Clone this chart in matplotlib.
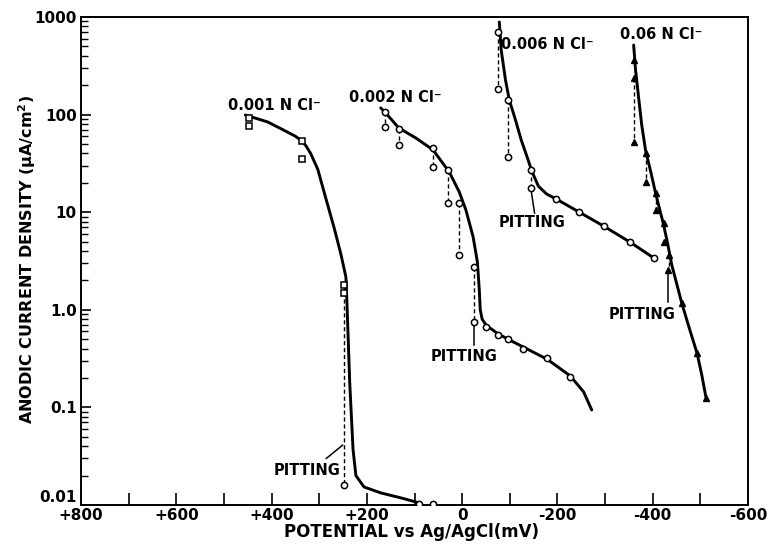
import matplotlib
matplotlib.use("Agg")
import matplotlib.pyplot as plt
from matplotlib.ticker import FixedLocator, LogLocator, NullFormatter

# ---- 0.001 N Cl- -------------------------------------------------------
e1_curve = [455, 408, 375, 350, 339, 328, 318, 303, 286, 269, 255, 244, 242,
            236, 229, 223, 206, 171, 128, 90]
i1_curve = [99, 84, 69.5, 60, 55, 48, 40, 27.5, 13.8, 7.0, 3.8, 2.17, 1.26,
            0.18, 0.037, 0.020, 0.0153, 0.0133, 0.0118, 0.0105]
e1_squares = [448, 448, 337, 337, 248, 248]
i1_squares = [92, 76, 54, 35, 1.8, 1.5]
e1_circles = [248, 90, 61]
i1_circles = [0.016, 0.0102, 0.0102]
e1_pit = [248]
i1_pit_top = [1.8]
i1_pit_bot = [0.016]

# ---- 0.002 N Cl- -------------------------------------------------------
e2_curve = [171, 162, 133, 97, 61, 27, 6, -8, -23, -32, -36, -38, -42, -51,
            -76, -103, -135, -179, -227, -255, -272]
i2_curve = [117, 106, 73, 57.5, 43.4, 25.8, 16.1, 10.5, 5.6, 3.09, 1.6, 1.0,
            0.80, 0.69, 0.565, 0.48, 0.40, 0.31, 0.21, 0.144, 0.094]
e2_circles = [162, 133, 61, 29, 6, -25, -51, -76, -97, -128, -179, -227,
              162, 133, 61, 29, 6, -25]
i2_circles = [106, 71, 45.5, 27, 12.4, 2.75, 0.67, 0.55, 0.50, 0.40, 0.32, 0.205,
              75, 49, 29, 12.4, 3.6, 0.75]
e2_pit = [162, 133, 61, 29, 6, -25]
i2_pit_top = [106, 71, 45.5, 27, 12.4, 2.75]
i2_pit_bot = [75, 49, 29, 12.4, 3.6, 0.75]

# ---- 0.006 N Cl- -------------------------------------------------------
e3_curve = [-78, -82, -91, -99, -112, -124, -137, -147, -160, -177, -198, -246,
            -297, -352, -402]
i3_curve = [889, 459, 226, 141, 88, 55, 36, 25.8, 18.5, 15.4, 13.6, 10.0,
            7.2, 4.95, 3.4]
e3_circles = [-76, -97, -145, -198, -246, -297, -352, -402, -76, -97, -145]
i3_circles = [702, 141, 27, 13.6, 10.0, 7.2, 4.95, 3.4, 183, 36.8, 17.7]
e3_pit = [-76, -97, -145]
i3_pit_top = [702, 141, 27]
i3_pit_bot = [183, 36.8, 17.7]

# ---- 0.06 N Cl- --------------------------------------------------------
e4_curve = [-360, -364, -371, -377, -385, -396, -406, -415, -423, -432, -440,
            -451, -461, -478, -493, -503, -512]
i4_curve = [516, 286, 141, 78, 43, 25.8, 15.7, 10.5, 7.4, 4.6, 2.88, 1.8, 1.17,
            0.62, 0.36, 0.215, 0.125]
e4_triangles = [-360, -360, -385, -406, -423, -423, -434, -461, -493, -512,
                -360, -385, -406, -432]
i4_triangles = [363, 237, 40.5, 15.7, 7.7, 4.96, 3.64, 1.17, 0.36, 0.125,
                52, 20.4, 10.5, 2.56]
e4_pit = [-360, -385, -406, -434]
i4_pit_top = [237, 40.5, 15.7, 3.64]
i4_pit_bot = [52, 20.4, 10.5, 2.56]

x_ticks = [800, 600, 400, 200, 0, -200, -400, -600]
x_ticklabels = ["+800", "+600", "+400", "+200", "0", "-200", "-400", "-600"]
y_ticks = [0.01, 0.1, 1, 10, 100, 1000]
y_ticklabels = ["0.01", "0.1", "1.0", "10", "100", "1000"]

plt.rcParams["font.family"] = ["DejaVu Sans"]
plt.rcParams["font.weight"] = "bold"

fig = plt.figure(figsize=(7.76, 5.56), dpi=100)
ax = fig.add_axes([0.1044, 0.0918, 0.8595, 0.8776])
ax.set_yscale("log")
ax.set_xlim(800, -600)
ax.set_ylim(0.01, 1000)

K = "black"
curve_kw = dict(color=K, lw=2.1, solid_capstyle="round",
                solid_joinstyle="round", zorder=3)
dash_kw = dict(color=K, lw=1.0, dashes=(3, 2), zorder=2)
open_kw = dict(ls="none", mfc="white", mec=K, mew=1.1, zorder=4)
lead_kw = dict(color=K, lw=1.1, zorder=2)


def drops(es, tops, bots):
    for e, t, b in zip(es, tops, bots):
        ax.plot([e, e], [t, b], **dash_kw)


# polarization curves
ax.plot(e1_curve, i1_curve, **curve_kw)
ax.plot(e2_curve, i2_curve, **curve_kw)
ax.plot(e3_curve, i3_curve, **curve_kw)
ax.plot(e4_curve, i4_curve, **curve_kw)

# current drops at pit initiation
drops(e1_pit, i1_pit_top, i1_pit_bot)
drops(e2_pit, i2_pit_top, i2_pit_bot)
drops(e3_pit, i3_pit_top, i3_pit_bot)
drops(e4_pit, i4_pit_top, i4_pit_bot)

# measured points
ax.plot(e1_squares, i1_squares, marker="s", ms=4.2, **open_kw)
ax.plot(e1_circles, i1_circles, marker="o", ms=4.5, **open_kw)
ax.plot(e2_circles, i2_circles, marker="o", ms=4.5, **open_kw)
ax.plot(e3_circles, i3_circles, marker="o", ms=4.5, **open_kw)
ax.plot(e4_triangles, i4_triangles, marker="^", ms=5, ls="none",
        color=K, zorder=4)

# concentration labels
lab_kw = dict(fontsize=10.5, fontweight="bold", ha="left", va="center")
ax.text(492, 125, "0.001 N Cl\u207b", **lab_kw)
ax.text(238, 150, "0.002 N Cl\u207b", **lab_kw)
ax.text(-82, 520, "0.006 N Cl\u207b", **lab_kw)
ax.text(-331, 660, "0.06 N Cl\u207b", **lab_kw)

# pitting labels with leader lines
pit_kw = dict(fontsize=10.5, fontweight="bold", ha="center", va="center")
ax.text(326, 0.0225, "PITTING", **pit_kw)
ax.plot([285, 251], [0.030, 0.041], **lead_kw)
ax.text(-4, 0.336, "PITTING", **pit_kw)
ax.plot([-25, -25], [0.44, 0.70], **lead_kw)
ax.text(-147, 7.9, "PITTING", **pit_kw)
ax.plot([-152, -145], [9.8, 16.5], **lead_kw)
ax.text(-377, 0.90, "PITTING", **pit_kw)
ax.plot([-432, -432], [1.2, 2.4], **lead_kw)

# axes styling
for s in ax.spines.values():
    s.set_linewidth(1.4)
ax.xaxis.set_major_locator(FixedLocator(x_ticks))
ax.set_xticklabels(x_ticklabels)
ax.xaxis.set_minor_locator(FixedLocator([700, 500, 300, 100, -100, -300, -500]))
ax.yaxis.set_major_locator(FixedLocator(y_ticks))
ax.set_yticklabels(y_ticklabels)
ax.yaxis.set_minor_locator(LogLocator(base=10, subs=range(2, 10)))
ax.yaxis.set_minor_formatter(NullFormatter())

ax.tick_params(axis="x", which="both", direction="in", length=9, width=1.2,
               labelsize=11, pad=2)
ax.tick_params(axis="y", which="major", direction="in", length=7, width=1.2,
               labelsize=11, pad=3)
ax.tick_params(axis="y", which="minor", direction="in", length=5, width=1.0)
for lbl in ax.get_xticklabels() + ax.get_yticklabels():
    lbl.set_fontweight("bold")
# lift the lowest y label so it clears the "+800" corner label
ax.get_yticklabels()[0].set_va("bottom")

ax.set_xlabel("POTENTIAL vs Ag/AgCl(mV)", fontsize=12, fontweight="bold")
ax.xaxis.label.set_va("center")
ax.xaxis.set_label_coords(0.496, -0.056)
ax.set_ylabel("ANODIC CURRENT DENSITY (\u03bcA/cm$^\\mathbf{2}$)", fontsize=11.5,
              fontweight="bold")
ax.yaxis.label.set_va("center")
ax.yaxis.set_label_coords(-0.081, 0.504)

fig.savefig("out.png", dpi=100)
